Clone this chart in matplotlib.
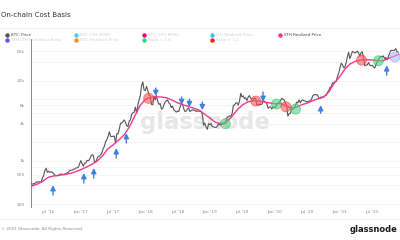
import numpy as np
import pandas as pd
import matplotlib
matplotlib.use('Agg')
import matplotlib.pyplot as plt
import matplotlib.dates as mdates
from matplotlib.lines import Line2D

plt.rcParams['font.family'] = ['DejaVu Sans']

# BTC price, weekly (Sundays) from 2016-03-27
price_2016 = [425,
              420, 425, 430, 455,
              450, 460, 455, 445, 530,
              575, 700, 760, 650,
              680, 650, 665, 655, 625,
              590, 570, 580, 575,
              610, 608, 610, 600,
              612, 618, 640, 655, 700,
              705, 705, 735, 735,
              765, 770, 790, 895]
price_2017 = [1010, 900, 820, 920, 920,
              1020, 1000, 1050, 1180,
              1260, 1230, 970, 960,
              1080, 1180, 1190, 1250, 1350,
              1580, 1720, 2050, 2200,
              2500, 2950, 2500, 2480,
              2500, 2520, 1950, 2750, 2730,
              3250, 4050, 4100, 4350,
              4600, 4200, 3700, 3600,
              4400, 4600, 5700, 6000, 6150,
              7400, 5900, 8000, 9700,
              11500, 16500, 19000, 14000, 13800]
price_2018 = [16000, 13800, 11500, 11300,
              8200, 8100, 11200, 9700,
              11400, 9200, 8200, 8500,
              6900, 7000, 8100, 8900, 9400,
              9700, 8700, 8300, 7300,
              7700, 6700, 6450, 6150,
              6400, 6300, 7400, 8200, 8200,
              7000, 6300, 6400, 6900,
              7200, 6300, 6500, 6700, 6600,
              6600, 6300, 6450, 6350,
              6400, 6350, 5600, 3800,
              4100, 3500, 3250, 4000, 3850]
price_2019 = [4000, 3600, 3550, 3500,
              3450, 3650, 3950, 3800,
              3850, 3900, 4000, 4050, 4150,
              5100, 5150, 5350, 5300,
              5800, 7900, 8000, 8700,
              8700, 8000, 9400, 12400, 10800,
              11300, 10200, 10500, 9500,
              10800, 11400, 10300, 10150,
              9750, 10450, 10250, 8000, 8300,
              8000, 8300, 8200, 9500,
              9200, 8800, 8500, 7100,
              7400, 7500, 6900, 7500, 7300]
price_2020 = [7400, 8100, 8700, 8600,
              9400, 10300, 9900, 9700,
              8550, 8000, 5300, 5800, 5900,
              6800, 6900, 7100, 7700,
              8900, 8700, 9700, 8700, 9450,
              9700, 9400, 9300, 9050,
              9100, 9250, 9350, 9900,
              11200, 11700, 11900, 11650, 11700,
              10300, 10300, 10900, 10750,
              10700, 11400, 11500, 13000,
              13800, 15500, 16000, 18400, 18200,
              19200, 19200, 23500, 26500]
price_2021 = [32000, 38200, 36000, 32300, 33100,
              38900, 48600, 57400, 45100,
              51200, 59300, 57500, 55800,
              57000, 59800, 56200, 49000,
              56600, 58200, 46400, 34700, 35700,
              35800, 39100, 35600, 34700,
              35300, 33100, 31800, 35400,
              39900, 43800, 47000, 49300, 48800,
              50000, 45000, 47300, 43200,
              48200, 54900, 61500, 61300, 61300,
              61500, 65500, 59000, 57300]
price = price_2016 + price_2017 + price_2018 + price_2019 + price_2020 + price_2021

# STH realized price, month starts from 2016-03
sth_price = [375, 395, 420, 470, 540, 570, 585, 600, 625, 665,
             720, 790, 870, 980, 1180, 1550, 1800, 2150, 2600, 3500, 5300, 7800,
             10000, 10700, 10900, 10800, 10500, 9600, 8700, 8100, 7600, 7100, 6600, 5700,
             4900, 4200, 4000, 4200, 5100, 6600, 8000, 9000, 9400, 9300, 9000, 8700,
             8400, 8500, 7800, 7200, 7400, 8100, 8600, 9400, 10100, 10700, 13000, 18000,
             23000, 31000, 37000, 41000, 43000, 43500, 43000, 42000, 41500, 45000, 49000, 53000]

circle_dates = ['2018-01-19', '2019-03-28', '2019-09-16', '2020-01-11', '2020-03-04',
                '2020-04-27', '2021-05-05', '2021-08-08', '2021-11-10']
circle_values = [10300, 4000, 9300, 8300, 7500, 6900, 42800, 41700, 47900]
circle_kinds = ['red', 'green', 'red', 'green', 'red', 'green', 'red', 'green', 'blue']

arrow_dates = ['2016-07-28', '2017-01-18', '2017-03-15', '2017-07-20', '2017-09-15',
               '2018-02-28', '2018-07-24', '2018-09-06', '2018-11-18', '2019-10-27',
               '2020-09-16', '2021-09-24']
arrow_tips = [406, 635, 766, 1610, 2820, 11200, 8000, 7400, 6600, 9000, 8000, 35400]
arrow_tails = [280, 438, 527, 1110, 1940, 15100, 10800, 10000, 9000, 13000, 5900, 24400]

y_major = [200, 600, 1000, 4000, 8000, 20000, 60000]
y_major_labels = ['200', '600', '1k', '4k', '8k', '20k', '60k']
y_minor = [400, 800, 2000, 6000, 10000, 40000]

legend_labels = [['BTC: Price', 'BTC: LTH-MVRV', 'BTC: STH-MVRV', 'LTH Realized Price', 'STH Realized Price'],
                 ['STH-LTH Cost Basis Ratio', 'BTC: Realized Price', 'Ratio < 1.0', 'Ratio > 1.2']]
legend_colors = [['#555555', '#5ac8fa', '#e6007e', '#40c4ff', '#f2388f'],
                 ['#5858f0', '#ff8c1a', '#1ee07a', '#ff1a1a']]
legend_active = [[True, False, False, False, True],
                 [False, False, False, False]]

circle_face = {'red': '#ff5b5b', 'green': '#52cf80', 'blue': '#b4b8f2'}
circle_edge = {'red': '#f03030', 'green': '#2fb865', 'blue': '#9aa0ea'}

price_dates = pd.date_range('2016-03-27', periods=len(price), freq='W-SUN')
sth_dates = pd.date_range('2016-03-01', periods=len(sth_price), freq='MS')

W, H = 400, 240
fig = plt.figure(figsize=(4, 2.4), dpi=100)
ax = fig.add_axes([30.7 / W, 1 - 207 / H, (W - 30.7) / W, (207 - 39) / H])
ax.set_yscale('log')

# watermark
ax.text(205 / W, 1 - 129 / H, 'glassnode', transform=fig.transFigure, ha='center',
        va='baseline', fontsize=16.4, fontweight='bold', color='#e6e6e6', zorder=0.5)

ax.plot(price_dates, price, color='#555555', lw=0.8, zorder=3)
ax.plot(sth_dates, sth_price, color='#f2388f', lw=1.0, zorder=4)

cx = mdates.date2num(pd.to_datetime(circle_dates))
ax.scatter(cx, circle_values, s=52, c=[circle_face[k] for k in circle_kinds],
           edgecolors=[circle_edge[k] for k in circle_kinds], linewidths=0.6,
           alpha=0.6, zorder=5)

ax_dates = mdates.date2num(pd.to_datetime(arrow_dates))
for d, tip, tail in zip(ax_dates, arrow_tips, arrow_tails):
    ax.annotate('', xy=(d, tip), xytext=(d, tail),
                arrowprops=dict(arrowstyle='-|>,head_length=0.3,head_width=0.15',
                                color='#3f7fe0', lw=1.0, shrinkA=0, shrinkB=0),
                zorder=6)

ax.set_xlim(mdates.date2num(pd.Timestamp('2016-03-24')),
            mdates.date2num(pd.Timestamp('2021-12-08')))
ax.set_ylim(179, 94000)

ax.set_yticks(y_major, y_major_labels)
ax.set_yticks(y_minor, [''] * len(y_minor), minor=True)
ax.xaxis.set_major_locator(mdates.MonthLocator(bymonth=[1, 7]))
ax.xaxis.set_major_formatter(mdates.DateFormatter("%b '%y"))
ax.tick_params(axis='both', which='both', length=0, labelsize=3.2, labelcolor='#8a8a8a')
ax.tick_params(axis='y', pad=4)
ax.tick_params(axis='x', pad=2)
ax.grid(True, which='both', axis='y', color='#f0f0f0', lw=0.5)
ax.set_axisbelow(True)
for s in ['top', 'right', 'bottom']:
    ax.spines[s].set_visible(False)
ax.spines['left'].set_color('#8a8a8a')
ax.spines['left'].set_linewidth(0.7)

# header / footer
fig.text(1 / W, 1 - 15 / H, 'On-chain Cost Basis', fontsize=5, color='#333333',
         ha='left', va='center')
fig.add_artist(Line2D([0, 1], [1 - 28 / H] * 2, color='#eeeeee', lw=0.6))
fig.add_artist(Line2D([0, 1], [1 - 218.5 / H] * 2, color='#eeeeee', lw=0.6))

col_x = [7, 76, 144, 212, 280]
row_y = [34.7, 40.2]
for r, labels in enumerate(legend_labels):
    for c, lab in enumerate(labels):
        x = col_x[c] / W
        y = 1 - row_y[r] / H
        fig.add_artist(Line2D([x], [y], marker='o', markersize=2.2, ls='none',
                              color=legend_colors[r][c]))
        fig.text(x + 3.5 / W, y, lab, fontsize=2.9, va='center', ha='left',
                 color='#444444' if legend_active[r][c] else '#cfcfcf')

fig.text(1 / W, 1 - 229 / H, '© 2021 Glassnode. All Rights Reserved.', fontsize=3,
         color='#8a8a8a', ha='left', va='center')
fig.text(398 / W, 1 - 229 / H, 'glassnode', fontsize=6, fontweight='bold',
         color='#1a1a1a', ha='right', va='center')

fig.savefig('out.png', dpi=100)
